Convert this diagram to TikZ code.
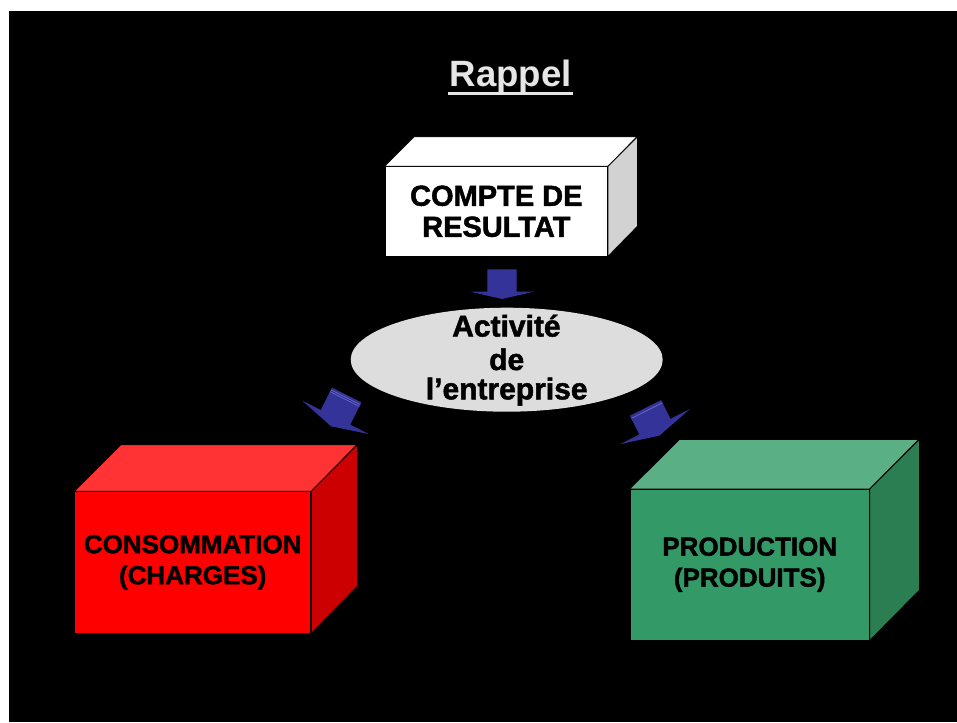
\documentclass[tikz,border=0pt]{standalone}
\usepackage{fontspec}
\setmainfont{Liberation Sans}
\newfontfamily\heavyfont{Liberation Sans Bold}[FakeBold=1.6]
\usetikzlibrary{shapes.geometric}
\definecolor{arrowblue}{HTML}{333399}
\definecolor{arrowbevel}{HTML}{6A6AC0}
\definecolor{redfront}{HTML}{FF0000}
\definecolor{redtop}{HTML}{FF3333}
\definecolor{redside}{HTML}{CC0000}
\definecolor{greenfront}{HTML}{339966}
\definecolor{greentop}{HTML}{5AAF84}
\definecolor{greenside}{HTML}{2A7E52}
\definecolor{whiteside}{HTML}{D2D2D2}
\definecolor{ellgray}{HTML}{DDDDDD}
\definecolor{rappelgray}{HTML}{E6E6E6}
\begin{document}
\begin{tikzpicture}[x=1pt,y=-1pt,
  face/.style={draw=black, line width=0.8pt},
  frontface/.style={face, inner sep=0pt, align=center, text=black},
  boxfont/.style={font=\heavyfont\fontsize{#1}{31}\selectfont},
  acttext/.style={font=\heavyfont\fontsize{30}{32}\selectfont, text=black, anchor=base, inner sep=0pt},
  blockfill/.style={fill=arrowblue},
  bevel/.style={draw=arrowbevel, line width=0.7pt}]
\useasboundingbox (0,0) rectangle (957,722);
\fill[white] (0,0) rectangle (957,722);
\fill[black] (9,11) rectangle (957,722);

% Title
\node[font=\bfseries\fontsize{36.6}{40}\selectfont, text=rappelgray, anchor=base, inner sep=0pt] (rap) at (510.8,86.7) {Rappel};
\draw[rappelgray, line width=3.2pt] ([xshift=-1.5pt,yshift=-6.5pt]rap.base west) -- ([xshift=1pt,yshift=-6.5pt]rap.base east);

% White box: COMPTE DE RESULTAT
\node[frontface, fill=white, minimum width=222.7pt, minimum height=89.3pt, boxfont=29] (cr) at (496.3,211.3) {COMPTE DE\\RESULTAT};
\draw[face, fill=white] (cr.north west) -- ++(29.5,-29.4) -- ++(222.7,0) -- (cr.north east) -- cycle;
\draw[face, fill=whiteside] (cr.north east) -- ++(29.5,-29.4) -- ++(0,89.3) -- (cr.south east) -- cycle;

% Ellipse
\node[ellipse, fill=ellgray, minimum width=312pt, minimum height=104pt, inner sep=0pt] (act) at (506.7,359.7) {};
\node[acttext] (act1) at (506.4,336.5) {Activité};
\node[acttext] (act2) at (506.7,370) {de};
\node[acttext] (act3) at (506.7,399.3) {l’entreprise};

% Red box: CONSOMMATION
\node[frontface, fill=redfront, minimum width=236pt, minimum height=141.3pt, boxfont=26] (cons) at (192.7,562.3) {CONSOMMATION\\(CHARGES)};
\draw[face, fill=redtop] (cons.north west) -- ++(46.5,-46.5) -- ++(236,0) -- (cons.north east) -- cycle;
\draw[face, fill=redside] (cons.north east) -- ++(46.5,-46.5) -- ++(0,141.3) -- (cons.south east) -- cycle;

% Green box: PRODUCTION
\node[frontface, fill=greenfront, minimum width=239.3pt, minimum height=150.7pt, boxfont=26] (prod) at (749.7,564.7) {PRODUCTION\\(PRODUITS)};
\draw[face, fill=greentop] (prod.north west) -- ++(49.7,-49.5) -- ++(239.3,0) -- (prod.north east) -- cycle;
\draw[face, fill=greenside] (prod.north east) -- ++(49.7,-49.5) -- ++(0,150.7) -- (prod.south east) -- cycle;

% Block arrows
\begin{scope}[shift={(502,269.3)}]
  \fill[blockfill] (-14.7,0) -- (14.7,0) -- (14.7,22.4) -- (31.7,22.4) -- (0,29.7) -- (-31.7,22.4) -- (-14.7,22.4) -- cycle;
\end{scope}
\begin{scope}[shift={(346.7,395)}, rotate=-26.6]
  \fill[blockfill] (-16.4,0) -- (16.4,0) -- (16.4,25) -- (37.3,25) -- (0,35) -- (-37.3,25) -- (-16.4,25) -- cycle;
  \draw[bevel] (-16.4,2.5) -- (16.4,2.5);
  \draw[bevel] (-16.4,4.5) -- (16.4,4.5);
\end{scope}
\begin{scope}[shift={(645.5,407.9)}, rotate=26.6]
  \fill[blockfill] (-17.4,0) -- (17.4,0) -- (17.4,21) -- (39,21) -- (0,31) -- (-39,21) -- (-17.4,21) -- cycle;
  \draw[bevel] (-17.4,3) -- (17.4,3);
\end{scope}
\end{tikzpicture}
\end{document}
